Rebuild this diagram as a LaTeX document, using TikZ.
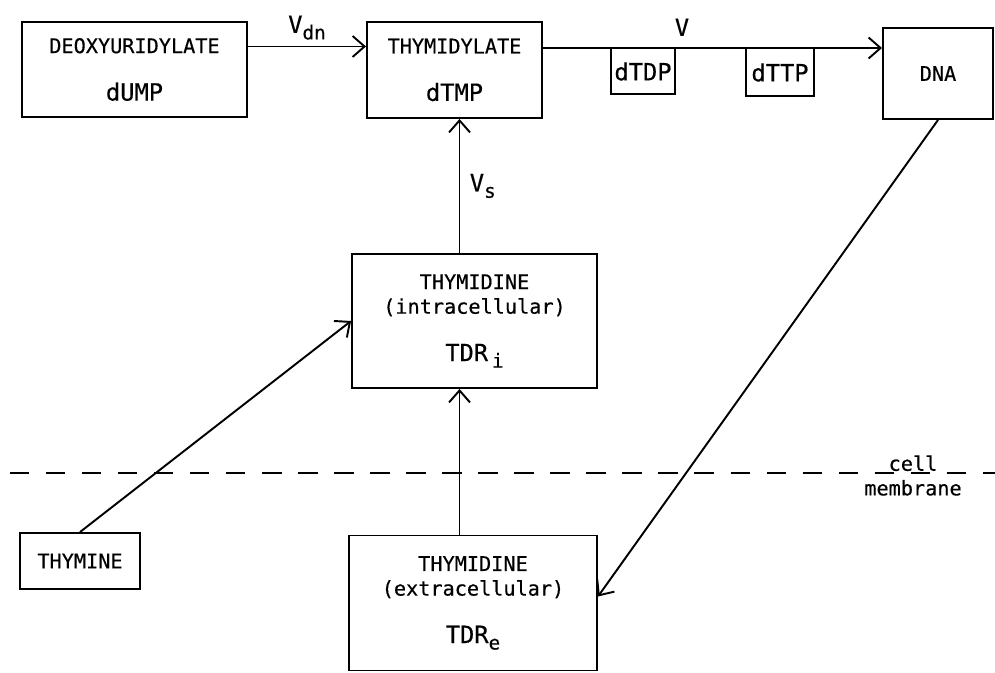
\documentclass[tikz,border=0pt]{standalone}
\usepackage{fontspec}
\setmainfont[FakeBold=0.4]{DejaVu Sans Mono}
\usetikzlibrary{arrows.meta,positioning,calc}
\newcommand\bigname{\fontsize{13.5pt}{16pt}\selectfont}
\newcommand\subtxt[1]{\raisebox{-0.5ex}{\fontsize{11pt}{11pt}\selectfont #1}}

\begin{document}
\begin{tikzpicture}[>={Straight Barb[length=2.4mm,width=4.2mm]},line width=1.1pt,
 every node/.style={font=\fontsize{11.5pt}{14pt}\selectfont},
 box/.style={draw,align=center,inner sep=0pt}]
 \useasboundingbox (0,0) rectangle (19.9,-13.46);
 \node[box,minimum width=4.5cm,minimum height=1.9cm] (dUMP) at (2.69,-1.39) {DEOXYURIDYLATE\\[13pt]{\bigname dUMP}};
 \node[box,minimum width=3.5cm,minimum height=1.92cm] (dTMP) at (9.09,-1.40) {THYMIDYLATE\\[13pt]{\bigname dTMP}};
 \node[box,minimum width=2.2cm,minimum height=1.82cm] (DNA) at (18.76,-1.47) {DNA};
 \node[box,minimum width=4.9cm,minimum height=2.68cm] (TDRi) at (9.49,-6.42) {THYMIDINE\\(intracellular)\\[13pt]{\bigname TDR\,\subtxt{i}}};
 \node[box,minimum width=2.4cm,minimum height=1.12cm] (thymine) at (1.6,-11.22) {THYMINE};
 \node[box,minimum width=4.96cm,minimum height=2.7cm] (TDRe) at (9.46,-12.06) {THYMIDINE\\(extracellular)\\[13pt]{\bigname TDR\subtxt{e}}};
 \node[minimum width=1.24cm,minimum height=0.86cm,inner sep=0pt] (dTDP) at (12.86,-1.43) {\bigname dTDP};
 \node[minimum width=1.32cm,minimum height=0.9cm,inner sep=0pt] (dTTP) at (15.6,-1.45) {\bigname dTTP};
 \draw (dTDP.north west) |- (dTDP.south east) -- (dTDP.north east);
 \draw (dTTP.north west) |- (dTTP.south east) -- (dTTP.north east);
 \coordinate (vdn) at ([yshift=0.46cm]dUMP.east);
 \coordinate (vA) at ([yshift=0.44cm]dTMP.east);
 \coordinate (vs) at ([xshift=0.1cm]dTMP.south);
 \draw[->] (vdn) -- node[above] (Vdnlab) {\bigname V\subtxt{dn}} (vdn -| dTMP.west);
 \draw[->] (vA) -- node[above=3pt,pos=0.41] (Vlab) {\bigname V} (vA -| DNA.west);
 \draw[->] (vs |- TDRi.north) -- node[right=2pt] (Vslab) {\bigname V\subtxt{s}} (vs);
 \draw[->] (vs |- TDRe.north) -- (vs |- TDRi.south);
 \draw[->] (thymine.north) -- (TDRi.west);
 \draw[->] (DNA.south) -- ([yshift=0.13cm]TDRe.east);
 \coordinate (memL) at (0.2,-9.46);
 \coordinate (memR) at (19.9,-9.46);
 \draw[line width=1.3pt,dash pattern=on 11pt off 9.5pt] (memL) -- (memR);
 \node[align=center] (membrane) at (18.26,-9.51) {cell\\membrane};
\end{tikzpicture}
\end{document}
